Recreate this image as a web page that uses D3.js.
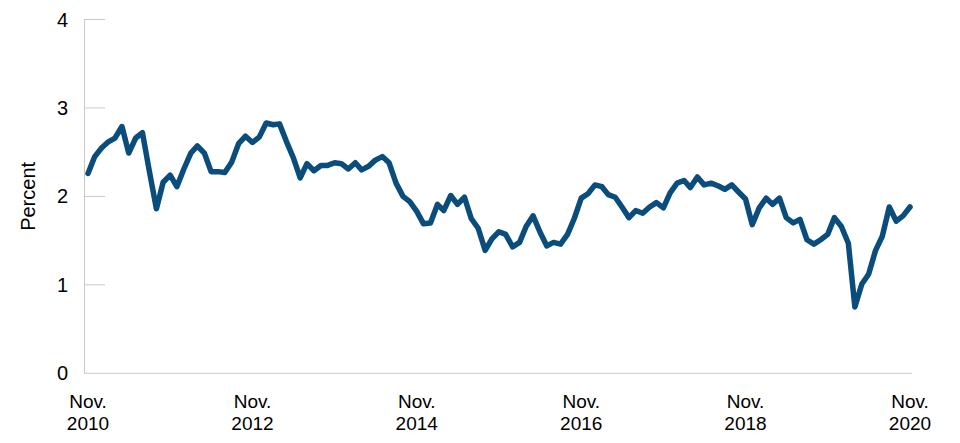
<!DOCTYPE html>
<html>
<head>
<meta charset="utf-8">
<script src="https://cdn.jsdelivr.net/npm/d3@7"></script>
<style>
  html, body { margin: 0; padding: 0; background: #fff; }
  svg { display: block; }
  text { font-family: "Liberation Sans", Arial, Helvetica, sans-serif; fill: #000; }
</style>
</head>
<body>
<svg id="chart" width="960" height="443"></svg>
<script>
// Monthly series, Nov. 2010 .. Nov. 2020 (121 months)
const startYear = 2010, startMonth = 10; // November (0-based)
const values = [
  2.26, 2.45, 2.55, 2.62, 2.66, 2.79, 2.49, 2.66, 2.72, 2.28,
  1.86, 2.16, 2.24, 2.11, 2.31, 2.49, 2.57, 2.49, 2.28, 2.28,
  2.27, 2.39, 2.60, 2.68, 2.61, 2.67, 2.83, 2.81, 2.82, 2.62,
  2.44, 2.21, 2.37, 2.29, 2.35, 2.35, 2.38, 2.37, 2.31, 2.38,
  2.30, 2.34, 2.41, 2.45, 2.38, 2.15, 2.00, 1.94, 1.83, 1.69,
  1.70, 1.91, 1.84, 2.01, 1.91, 1.99, 1.75, 1.64, 1.39, 1.52,
  1.60, 1.57, 1.43, 1.48, 1.66, 1.78, 1.60, 1.44, 1.48, 1.46,
  1.57, 1.75, 1.98, 2.03, 2.13, 2.11, 2.02, 1.99, 1.88, 1.76,
  1.84, 1.81, 1.88, 1.93, 1.87, 2.04, 2.15, 2.18, 2.10, 2.22,
  2.13, 2.15, 2.12, 2.08, 2.13, 2.05, 1.97, 1.68, 1.87, 1.98,
  1.91, 1.98, 1.76, 1.70, 1.74, 1.51, 1.46, 1.51, 1.57, 1.76,
  1.66, 1.47, 0.75, 1.01, 1.12, 1.39, 1.55, 1.88, 1.72, 1.78,
  1.88
];
const dates = values.map((v, i) => new Date(startYear, startMonth + i, 1));
const yTicks = [0, 1, 2, 3, 4];
const xTickYears = [2010, 2012, 2014, 2016, 2018, 2020];
const xTickDates = xTickYears.map(y => new Date(y, 10, 1));
const yLabel = "Percent";

const svg = d3.select("#chart");
const x = d3.scaleTime().domain([dates[0], dates[dates.length - 1]]).range([88, 910]);
const y = d3.scaleLinear().domain([0, 4]).range([373.3, 19.5]);
const axisColor = "#c8c8c8";

// Y axis line
svg.append("line")
  .attr("x1", 84.5).attr("x2", 84.5)
  .attr("y1", y(4)).attr("y2", y(0))
  .attr("stroke", axisColor).attr("stroke-width", 1);
// X axis line
svg.append("line")
  .attr("x1", 84).attr("x2", 912)
  .attr("y1", y(0)).attr("y2", y(0))
  .attr("stroke", axisColor).attr("stroke-width", 1);

// Y ticks (short inward) and labels
const yt = svg.append("g");
yt.selectAll("line").data(yTicks.filter(d => d > 0)).join("line")
  .attr("x1", 84.5).attr("x2", 105)
  .attr("y1", d => y(d)).attr("y2", d => y(d))
  .attr("stroke", axisColor).attr("stroke-width", 1);
yt.selectAll("text").data(yTicks).join("text")
  .attr("x", 68).attr("y", d => y(d))
  .attr("text-anchor", "end").attr("dominant-baseline", "central")
  .attr("font-size", 20)
  .text(d => d);

// X labels (two lines each)
const xt = svg.append("g");
const lab = xt.selectAll("text").data(xTickDates).join("text")
  .attr("text-anchor", "middle").attr("font-size", 19)
  .attr("transform", d => `translate(${x(d)},0)`);
lab.append("tspan").attr("x", 0).attr("y", 408).text("Nov.");
lab.append("tspan").attr("x", 0).attr("y", 430).text(d => d.getFullYear());

// Y label
svg.append("text")
  .attr("transform", `translate(35,${y(2)}) rotate(-90)`)
  .attr("text-anchor", "middle").attr("font-size", 20)
  .text(yLabel);

// Line
const line = d3.line().x((d, i) => x(dates[i])).y(d => y(d));
svg.append("path")
  .datum(values)
  .attr("d", line)
  .attr("fill", "none")
  .attr("stroke", "#0a4d7c")
  .attr("stroke-width", 5.5)
  .attr("stroke-linejoin", "round")
  .attr("stroke-linecap", "round");
</script>
</body>
</html>
